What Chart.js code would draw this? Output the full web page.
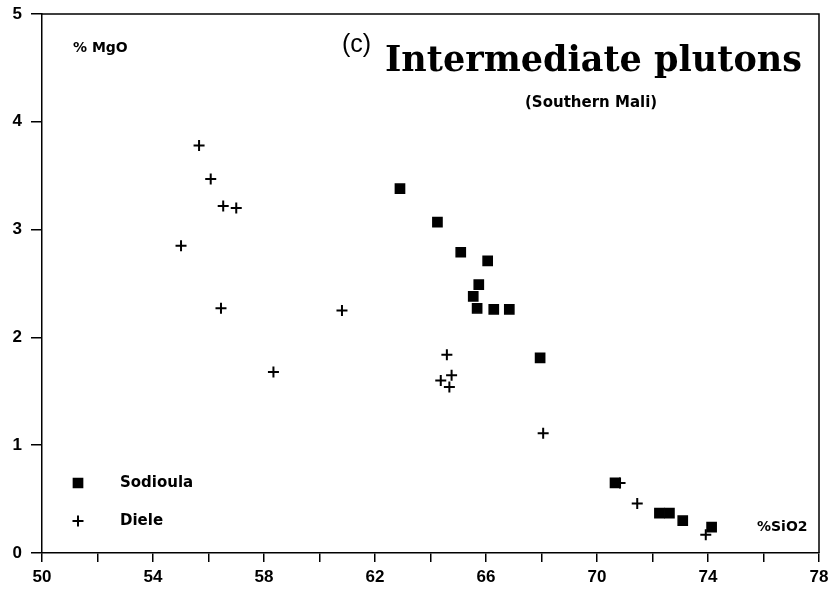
<!DOCTYPE html>
<html>
<head>
<meta charset="utf-8">
<script src="https://cdn.jsdelivr.net/npm/chart.js@4"></script>
<style>
  html, body { margin: 0; padding: 0; background: #fff; }
  #wrap { width: 830px; height: 589px; }
</style>
</head>
<body>
<div id="wrap"><canvas id="plot" width="830" height="589"></canvas></div>
<script>
// Intermediate plutons of Southern Mali: MgO vs SiO2 (wt %)
const sodioulaSiO2 = [62.90, 64.25, 65.09, 66.06, 65.74, 65.54, 65.68, 66.28, 66.84, 67.95, 70.65, 72.25, 72.61, 73.09, 74.13];
const sodioulaMgO  = [3.38, 3.07, 2.79, 2.71, 2.49, 2.38, 2.27, 2.26, 2.26, 1.81, 0.65, 0.37, 0.37, 0.30, 0.24];

const dieleSiO2 = [55.66, 56.08, 56.53, 57.00, 55.01, 56.45, 60.81, 58.34, 64.59, 64.37, 64.76, 64.68, 68.06, 70.83, 71.45, 73.92];
const dieleMgO  = [3.78, 3.47, 3.22, 3.20, 2.85, 2.27, 2.25, 1.68, 1.84, 1.60, 1.65, 1.54, 1.11, 0.65, 0.46, 0.17];

const xRange = [50, 78];
const yRange = [0, 5];
const xLabelStep = 4;   // labelled every 4 %, ticked every 2 %
const xTickStep = 2;
const yTickStep = 1;

const seriesNames = ['Sodioula', 'Diele'];

const toPoints = (xs, ys) => xs.map((x, i) => ({ x: x, y: ys[i] }));

const INK = '#000';
const tickFont = { family: "'Liberation Sans', Arial, sans-serif", size: 17, weight: 'bold', lineHeight: 1 };

// Frame, annotations and the in-plot key
const decorations = {
  id: 'decorations',
  afterDraw(chart) {
    const { ctx, chartArea: a } = chart;
    ctx.save();
    ctx.strokeStyle = INK;
    ctx.lineWidth = 1.5;
    ctx.beginPath();
    ctx.moveTo(a.left, a.top);
    ctx.lineTo(a.right, a.top);
    ctx.lineTo(a.right, a.bottom);
    ctx.stroke();

    ctx.fillStyle = INK;
    ctx.textBaseline = 'middle';
    ctx.textAlign = 'left';

    ctx.font = "bold 14px 'DejaVu Sans', sans-serif";
    ctx.fillText('% MgO', 73, 48);
    ctx.fillText('%SiO2', 757, 527);

    ctx.font = "25px 'Liberation Sans', Arial, sans-serif";
    ctx.fillText('(c)', 342, 45);

    ctx.font = "bold 35px 'DejaVu Serif', serif";
    ctx.fillText('Intermediate plutons', 385, 62);

    ctx.font = "bold 15px 'DejaVu Sans', sans-serif";
    ctx.fillText('(Southern Mali)', 525, 103);

    // key
    const rows = [
      { ds: chart.data.datasets[0], y: 483 },
      { ds: chart.data.datasets[1], y: 521 }
    ];
    rows.forEach(r => {
      ctx.fillStyle = INK;
      ctx.strokeStyle = INK;
      ctx.lineWidth = r.ds.borderWidth;
      Chart.helpers.drawPoint(ctx, {
        pointStyle: r.ds.pointStyle,
        radius: r.ds.pointRadius,
        rotation: 0,
        borderWidth: r.ds.borderWidth
      }, 78, r.y);
      ctx.font = "bold 15px 'DejaVu Sans', sans-serif";
      ctx.fillText(r.ds.label, 120, r.y);
    });
    ctx.restore();
  }
};

new Chart(document.getElementById('plot'), {
  type: 'scatter',
  data: {
    datasets: [
      {
        label: seriesNames[0],
        data: toPoints(sodioulaSiO2, sodioulaMgO),
        pointStyle: 'rect',
        pointRadius: 6.5,
        pointHoverRadius: 6.5,
        backgroundColor: INK,
        borderColor: INK,
        borderWidth: 1.5
      },
      {
        label: seriesNames[1],
        data: toPoints(dieleSiO2, dieleMgO),
        pointStyle: 'cross',
        pointRadius: 5.5,
        pointHoverRadius: 5.5,
        backgroundColor: INK,
        borderColor: INK,
        borderWidth: 2
      }
    ]
  },
  options: {
    responsive: false,
    animation: false,
    devicePixelRatio: 1,
    layout: { padding: { top: 14, right: 11, left: 0, bottom: 0 } },
    elements: { point: { borderJoinStyle: 'round' } },
    plugins: {
      legend: { display: false },
      tooltip: { enabled: false }
    },
    scales: {
      x: {
        type: 'linear',
        min: xRange[0],
        max: xRange[1],
        afterFit(scale) {
          scale.height = 36;
          scale.paddingLeft = 0;
          scale.paddingRight = 0;
        },
        border: { display: true, color: INK, width: 1.5 },
        grid: { drawOnChartArea: false, drawTicks: true, tickLength: 9, color: INK, lineWidth: 1.5 },
        ticks: {
          stepSize: xTickStep,
          autoSkip: false,
          maxRotation: 0,
          color: INK,
          font: tickFont,
          padding: 7,
          callback: v => ((v - xRange[0]) % xLabelStep === 0 ? String(v) : '')
        }
      },
      y: {
        type: 'linear',
        min: yRange[0],
        max: yRange[1],
        afterFit(scale) {
          scale.width = 42;
          scale.paddingTop = 0;
          scale.paddingBottom = 0;
        },
        border: { display: true, color: INK, width: 1.5 },
        grid: { drawOnChartArea: false, drawTicks: true, tickLength: 11, color: INK, lineWidth: 1.5 },
        ticks: {
          stepSize: yTickStep,
          color: INK,
          font: tickFont,
          padding: 9,
          callback: v => String(v)
        }
      }
    }
  },
  plugins: [decorations]
});
</script>
</body>
</html>
